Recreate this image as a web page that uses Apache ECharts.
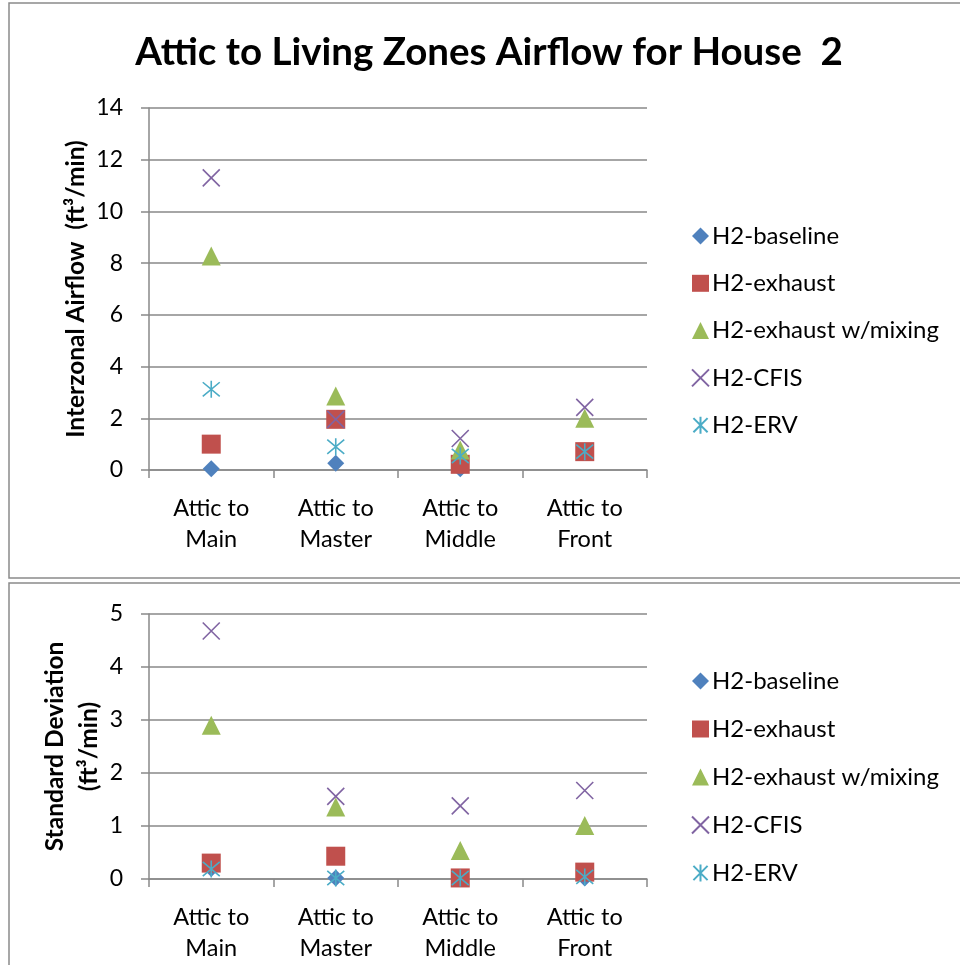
<!DOCTYPE html>
<html>
<head>
<meta charset="utf-8">
<script src="https://cdn.jsdelivr.net/npm/echarts@6/dist/echarts.min.js"></script>
<style>
  html, body { margin: 0; padding: 0; background: #fff; }
  #chart { width: 960px; height: 965px; }
</style>
</head>
<body>
<div id="chart"></div>
<script>
// categories
const categories = ['Attic to\nMain', 'Attic to\nMaster', 'Attic to\nMiddle', 'Attic to\nFront'];
const seriesNames = ['H2-baseline', 'H2-exhaust', 'H2-exhaust w/mixing', 'H2-CFIS', 'H2-ERV'];

// interzonal airflow (ft3/min)
const baselineFlow = [0.05, 0.26, 0.05, 0.7];
const exhaustFlow = [1.0, 1.96, 0.22, 0.71];
const mixingFlow = [8.28, 2.86, 0.77, 2.0];
const cfisFlow = [11.3, 1.96, 1.22, 2.42];
const ervFlow = [3.12, 0.9, 0.54, 0.71];

// standard deviation (ft3/min)
const baselineSd = [0.2, 0.02, 0.02, 0.02];
const exhaustSd = [0.3, 0.43, 0.02, 0.13];
const mixingSd = [2.9, 1.36, 0.54, 1.01];
const cfisSd = [4.68, 1.56, 1.38, 1.67];
const ervSd = [0.19, 0.02, 0.02, 0.04];

const flowTicks = [0, 2, 4, 6, 8, 10, 12, 14];
const sdTicks = [0, 1, 2, 3, 4, 5];

const FONT = 'Lato';
const GRID_GRAY = '#898989';

const markers = [
  { symbol: 'diamond', size: 17, color: '#4F81BD' },
  { symbol: 'rect', size: 19, color: '#C0504D' },
  { symbol: 'triangle', size: 19, color: '#9BBB59' },
  { symbol: 'path://M0,0L10,10M10,0L0,10', size: 17, color: '#8064A2', line: true },
  { symbol: 'path://M0,0L10,10M10,0L0,10M5,-1L5,11', size: 17, color: '#4BACC6', line: true }
];

function makeSeries(dataSets, idx) {
  return dataSets.map(function (d, i) {
    const m = markers[i];
    return {
      name: seriesNames[i],
      type: 'scatter',
      xAxisIndex: idx,
      yAxisIndex: idx,
      data: d,
      symbol: m.symbol,
      symbolSize: m.size,
      itemStyle: m.line
        ? { color: 'rgba(0,0,0,0)', borderColor: m.color, borderWidth: 1.6, opacity: 1 }
        : { color: m.color, opacity: 1 },
      emphasis: { disabled: true },
      z: 2 + i
    };
  });
}

function xAxisCfg(gridIndex) {
  return {
    type: 'category',
    gridIndex: gridIndex,
    data: categories,
    boundaryGap: true,
    axisLine: { lineStyle: { color: GRID_GRAY, width: 1.5 } },
    axisTick: { show: true, length: 8, lineStyle: { color: GRID_GRAY, width: 1.5 } },
    axisLabel: { color: '#000', fontFamily: FONT, fontSize: 23.5, lineHeight: 31, margin: 22.5 }
  };
}

function yAxisCfg(gridIndex, max, interval, name, nameGap, nameLineHeight) {
  return {
    type: 'value',
    gridIndex: gridIndex,
    min: 0,
    max: max,
    interval: interval,
    name: name,
    nameLocation: 'middle',
    nameRotate: 90,
    nameGap: nameGap,
    nameMoveOverlap: false,
    nameTextStyle: { color: '#000', fontFamily: FONT, fontSize: 24.5, fontWeight: 'bold', lineHeight: nameLineHeight },
    axisLine: { show: true, lineStyle: { color: GRID_GRAY, width: 1.5 } },
    axisTick: { show: true, length: 8, lineStyle: { color: GRID_GRAY, width: 1.5 } },
    splitLine: { show: true, lineStyle: { color: GRID_GRAY, width: 1.5 } },
    axisLabel: { color: '#000', fontFamily: FONT, fontSize: 23, margin: 26 }
  };
}

function legendCfg(top, gap) {
  return {
    orient: 'vertical',
    left: 686,
    top: top,
    itemGap: gap,
    itemWidth: 17,
    itemHeight: 17,
    data: seriesNames,
    selectedMode: false,
    textStyle: { color: '#000', fontFamily: FONT, fontSize: 24, padding: [0, 0, 0, -2] }
  };
}

const chart = echarts.init(document.getElementById('chart'));
chart.setOption({
  backgroundColor: '#fff',
  animation: false,
  title: {
    text: 'Attic to Living Zones Airflow for House  2',
    left: 484,
    top: 28,
    textAlign: 'center',
    textStyle: { color: '#000', fontFamily: FONT, fontSize: 38.5, fontWeight: 'bold' }
  },
  graphic: [
    { type: 'rect', shape: { x: 9, y: 3, width: 960, height: 575 }, style: { fill: 'none', stroke: '#8a8a8a', lineWidth: 1.5 } },
    { type: 'rect', shape: { x: 9, y: 583, width: 960, height: 400 }, style: { fill: 'none', stroke: '#8a8a8a', lineWidth: 1.5 } }
  ],
  legend: [legendCfg(219, 23.3), legendCfg(664, 24)],
  grid: [
    { left: 149, top: 108, width: 498, height: 362 },
    { left: 149, top: 614, width: 498, height: 265 }
  ],
  xAxis: [xAxisCfg(0), xAxisCfg(1)],
  yAxis: [
    yAxisCfg(0, flowTicks[flowTicks.length - 1], flowTicks[1] - flowTicks[0], 'Interzonal Airflow  (ft³/min)', 57, 32),
    yAxisCfg(1, sdTicks[sdTicks.length - 1], sdTicks[1] - sdTicks[0], 'Standard Deviation\n(ft³/min)', 43, 34)
  ],
  series: makeSeries([baselineFlow, exhaustFlow, mixingFlow, cfisFlow, ervFlow], 0)
    .concat(makeSeries([baselineSd, exhaustSd, mixingSd, cfisSd, ervSd], 1))
});
</script>
</body>
</html>
